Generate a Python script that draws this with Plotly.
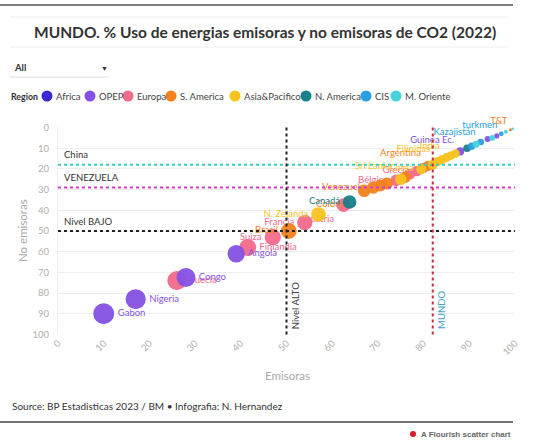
import plotly.graph_objects as go
import math

# ---------------- DATA ----------------
paises = ["Gabon", "Nigeria", "Suecia", "Congo", "Angola", "Finlandia", "Suiza", "Brasil",
          "Francia", "N. Zelanda", "Austria", "Canadá", "Colombia", "Venezuela", "Chile",
          "Ecuador", "Bélgica", "Sri Lanka", "Perú", "Alemania", "Grecia", "Corea", "Italia",
          "Argentina", "China", "Filipinas", "Japón", "India", "Tailandia", "Indonesia",
          "Guinea Ec.", "México", "Bielorrusia", "Israel", "Kazajistán", "Irán", "Emiratos",
          "Argelia", "turkmen", "Kuwait", "T&T", "Arabia Saudí"]
regiones = ["OPEP", "OPEP", "Europa", "OPEP", "OPEP", "Europa", "Europa", "S. America",
            "Europa", "Asia&Pacifico", "Europa", "N. America", "S. America", "S. America", "S. America",
            "S. America", "Europa", "Asia&Pacifico", "S. America", "Europa", "Europa", "Asia&Pacifico", "Europa",
            "S. America", "Asia&Pacifico", "Asia&Pacifico", "Asia&Pacifico", "Asia&Pacifico", "Asia&Pacifico", "Asia&Pacifico",
            "OPEP", "N. America", "CIS", "M. Oriente", "CIS", "OPEP", "M. Oriente",
            "OPEP", "CIS", "M. Oriente", "S. America", "M. Oriente"]
emisoras = [10, 17, 26, 28, 39, 41.5, 47, 50.5,
            54, 57, 62.5, 63.8, 67, 69, 70.5,
            72, 74, 75, 76, 77, 78.5, 79.5, 80,
            81, 82, 83, 84, 85, 86, 87,
            88, 89.5, 90.5, 91.5, 92.5, 94, 95,
            96, 97, 98, 99, 99.5]
no_emisoras = [90, 83, 74, 72.5, 61, 58, 53, 50,
               46, 42, 37.5, 36, 30.5, 29, 28,
               27, 25.5, 25, 24, 22.5, 21, 20, 19.5,
               18.5, 18, 16.5, 15.5, 14.5, 13.5, 12.5,
               11.5, 10, 9, 8, 7, 5.5, 5,
               4, 3, 2, 1, 0.5]

region_names = ["Africa", "OPEP", "Europa", "S. America", "Asia&Pacifico", "N. America", "CIS", "M. Oriente"]
x_ticks = list(range(0, 101, 10))
y_ticks = list(range(0, 101, 10))

ref_h = [("China", 18), ("VENEZUELA", 29), ("Nivel BAJO", 50)]
ref_v = [("Nivel ALTO", 50), ("MUNDO", 82)]

# ---------------- STYLE ----------------
colors = {"Africa": "#3a28d4", "OPEP": "#8551e4", "Europa": "#f26a8c", "S. America": "#f3821e",
          "Asia&Pacifico": "#f8c31f", "N. America": "#17808a", "CIS": "#2a9fe2", "M. Oriente": "#45d3dc"}
label_pos = {"Gabon": "middle right", "Nigeria": "middle right", "Suecia": "middle right",
             "Congo": "middle right", "Angola": "middle right", "Finlandia": "middle right",
             "Suiza": "middle left", "Brasil": "middle left", "Francia": "middle left",
             "N. Zelanda": "middle left", "Austria": "bottom left", "Canadá": "middle left",
             "Colombia": "bottom left", "Venezuela": "middle left", "Bélgica": "middle left",
             "Sri Lanka": "top left", "Grecia": "middle left", "Corea": "middle left",
             "Argentina": "top left", "Filipinas": "top left", "India": "top left",
             "Guinea Ec.": "top left", "Kazajistán": "top left",
             "turkmen": "top left", "T&T": "top left"}
ref_h_colors = {"China": "#35cfc0", "VENEZUELA": "#cf3fcf", "Nivel BAJO": "#222222"}
ref_v_colors = {"Nivel ALTO": "#222222", "MUNDO": "#d3283a"}
ref_v_text_colors = {"Nivel ALTO": "#444444", "MUNDO": "#3fa3c6"}

FONT = "Lato, 'Source Sans Pro', sans-serif"
W, H = 540, 441
L, R, T, B = 58, 515, 127, 335


def px2x(px):
    return (px - L) / (R - L)


def py2y(py):
    return (B - py) / (B - T)


fig = go.Figure()

draw_order = ["Africa", "Europa", "OPEP", "S. America", "Asia&Pacifico", "N. America", "CIS", "M. Oriente"]
for reg in draw_order:
    idx = [i for i, r in enumerate(regiones) if r == reg]
    if not idx:
        continue
    xs = [emisoras[i] for i in idx]
    ys = [no_emisoras[i] for i in idx]
    names = [paises[i] for i in idx]
    fig.add_trace(go.Scatter(
        x=xs, y=ys, mode="markers+text", name=reg,
        text=[n if n in label_pos else "" for n in names],
        textposition=[label_pos.get(n, "middle right") for n in names],
        textfont=dict(family=FONT, size=9.5, color=colors[reg]),
        marker=dict(color=colors[reg], size=[2.1 * math.sqrt(v) + 1 for v in ys],
                    line=dict(width=0), opacity=0.95),
        showlegend=False, cliponaxis=False,
    ))

shapes = []
annotations = []

# reference lines
for name, val in ref_h:
    shapes.append(dict(type="line", xref="x", yref="y", x0=0, x1=100, y0=val, y1=val,
                       line=dict(color=ref_h_colors[name], width=2, dash="dot"), layer="above"))
    annotations.append(dict(xref="x", yref="y", x=0.8, y=val - 1.2, text=name, showarrow=False,
                            xanchor="left", yanchor="bottom",
                            font=dict(family=FONT, size=9.5, color="#333333")))
for name, val in ref_v:
    shapes.append(dict(type="line", xref="x", yref="y", x0=val, x1=val, y0=0, y1=100,
                       line=dict(color=ref_v_colors[name], width=2, dash="dot"), layer="above"))
    annotations.append(dict(xref="x", yref="y", x=val + 0.3, y=98.5, text=name, showarrow=False,
                            textangle=-90, xanchor="left", yanchor="bottom",
                            font=dict(family=FONT, size=9.5, color=ref_v_text_colors[name])))

# header / frame lines
shapes += [
    dict(type="line", xref="paper", yref="paper", x0=px2x(0), x1=px2x(513), y0=py2y(5), y1=py2y(5),
         line=dict(color="#555555", width=1.5)),
    dict(type="line", xref="paper", yref="paper", x0=px2x(10), x1=px2x(508), y0=py2y(17), y1=py2y(17),
         line=dict(color="#eeeeee", width=1)),
    dict(type="line", xref="paper", yref="paper", x0=px2x(10), x1=px2x(508), y0=py2y(47), y1=py2y(47),
         line=dict(color="#eeeeee", width=1)),
    dict(type="line", xref="paper", yref="paper", x0=px2x(10), x1=px2x(108), y0=py2y(77), y1=py2y(77),
         line=dict(color="#dddddd", width=1)),
    dict(type="line", xref="paper", yref="paper", x0=px2x(0), x1=px2x(513), y0=py2y(422), y1=py2y(422),
         line=dict(color="#444444", width=1.5)),
]

# title
annotations.append(dict(xref="paper", yref="paper", x=px2x(265), y=py2y(32), showarrow=False,
                        text="<b>MUNDO. % Uso de energias emisoras y no emisoras de CO2 (2022)</b>",
                        xanchor="center", yanchor="middle",
                        font=dict(family=FONT, size=15.5, color="#333333")))
# dropdown
annotations.append(dict(xref="paper", yref="paper", x=px2x(12), y=py2y(68), showarrow=False,
                        text="<b>All</b>", xanchor="left", yanchor="middle",
                        font=dict(family=FONT, size=9.5, color="#333333")))
annotations.append(dict(xref="paper", yref="paper", x=px2x(104), y=py2y(68), showarrow=False,
                        text="▼", xanchor="center", yanchor="middle",
                        font=dict(family=FONT, size=7, color="#333333")))

# legend
annotations.append(dict(xref="paper", yref="paper", x=px2x(9), y=py2y(96), showarrow=False,
                        text="<b>Region</b>", xanchor="left", yanchor="middle",
                        font=dict(family=FONT, size=8.8, color="#333333")))
legend_cx = [47, 90, 128, 171, 235, 306, 366, 396]
for reg, cx in zip(region_names, legend_cx):
    r = 5.5
    shapes.append(dict(type="circle", xref="paper", yref="paper",
                       x0=px2x(cx - r), x1=px2x(cx + r), y0=py2y(96 + r), y1=py2y(96 - r),
                       fillcolor=colors[reg], line=dict(width=0)))
    annotations.append(dict(xref="paper", yref="paper", x=px2x(cx + 7), y=py2y(96), showarrow=False,
                            text=reg, xanchor="left", yanchor="middle",
                            font=dict(family=FONT, size=9.5, color="#444444")))

# footer
annotations.append(dict(xref="paper", yref="paper", x=px2x(10), y=py2y(406), showarrow=False,
                        text="Source: BP Estadisticas 2023 / BM • Infografia: N. Hernandez",
                        xanchor="left", yanchor="middle",
                        font=dict(family=FONT, size=10, color="#333333")))
shapes.append(dict(type="circle", xref="paper", yref="paper",
                   x0=px2x(410), x1=px2x(416), y0=py2y(437), y1=py2y(431),
                   fillcolor="#d4202c", line=dict(width=0)))
annotations.append(dict(xref="paper", yref="paper", x=px2x(419), y=py2y(434), showarrow=False,
                        text="<b>A Flourish scatter chart</b>", xanchor="left", yanchor="middle",
                        font=dict(family="Liberation Sans, Arial", size=8, color="#666666")))

# axis titles
annotations.append(dict(xref="paper", yref="paper", x=px2x(287), y=py2y(375), showarrow=False,
                        text="Emisoras", xanchor="center", yanchor="middle",
                        font=dict(family=FONT, size=11.5, color="#aaaaaa")))
annotations.append(dict(xref="paper", yref="paper", x=px2x(22), y=py2y(231), showarrow=False,
                        text="No emisoras", textangle=-90, xanchor="center", yanchor="middle",
                        font=dict(family=FONT, size=11.5, color="#aaaaaa")))

fig.update_layout(
    width=W, height=H,
    margin=dict(l=L, r=W - R, t=T, b=H - B, pad=0),
    paper_bgcolor="white", plot_bgcolor="white",
    font=dict(family=FONT),
    shapes=shapes, annotations=annotations,
    xaxis=dict(range=[0, 100], tickvals=x_ticks, ticktext=[str(v) for v in x_ticks],
               tickangle=-45, tickfont=dict(family=FONT, size=9.5, color="#b0b0b0"),
               showgrid=False, zeroline=False, showline=False, ticks=""),
    yaxis=dict(range=[100.3, -0.3], tickvals=y_ticks, ticktext=[str(v) for v in y_ticks],
               tickfont=dict(family=FONT, size=9.5, color="#b0b0b0"),
               showgrid=True, gridcolor="#eeeeee", gridwidth=1, zeroline=False,
               showline=True, linecolor="#eeeeee", ticks="", ticklabelstandoff=6),
)

fig.write_html("out.html", config={"displayModeBar": False},
               post_script="document.body.style.margin='0';")
